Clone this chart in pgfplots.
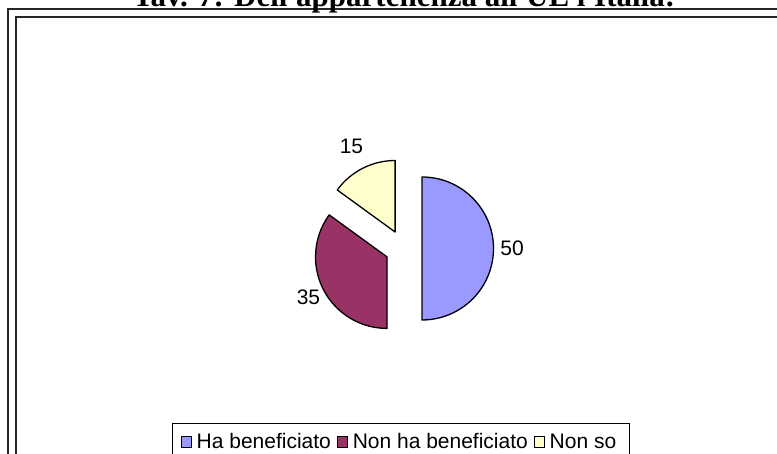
\documentclass[border=0pt]{standalone}
\usepackage{fontspec}
\setmainfont{Liberation Sans}
\newfontfamily\titlefont{Liberation Serif}
\usepackage{pgfplots}
\pgfplotsset{compat=1.18}
\usepackage{pgfplotstable}
\definecolor{pieblue}{HTML}{9999FF}
\definecolor{piered}{HTML}{993366}
\definecolor{pieyellow}{HTML}{FFFFCC}

% value, colour, label distance from pie centre (pt)
\pgfplotstableread{
value color dist
50 pieblue 108.5
35 piered 106.7
15 pieyellow 114.7
}\piedata

\pgfplotsset{sqlegend/.style={legend image code/.code={\draw[##1,line width=0.8pt] (0pt,-5.5pt) rectangle (10pt,5.5pt);}}}

\begin{document}
\begin{tikzpicture}
\useasboundingbox (0pt,0pt) rectangle (777pt,454pt);
% frames
\draw[line width=1.5pt, black!85] (8pt,445pt) rectangle (800pt,-40pt);
\draw[line width=1.5pt, black!85] (16pt,437pt) rectangle (790pt,-30pt);
% title (partly cut by the page top, as in the reference)
\node[anchor=base, inner sep=0pt, font=\titlefont\bfseries\fontsize{31}{36}\selectfont] at (404pt,447.5pt) {Tav. 7: Dell'appartenenza all'UE l'Italia:};
\begin{axis}[
  at={(0pt,0pt)}, anchor=south west,
  scale only axis, width=777pt, height=454pt,
  xmin=0, xmax=777, ymin=0, ymax=454,
  hide axis, clip=false,
  legend columns=3,
  legend style={
    at={(axis cs:172,31)}, anchor=north west,
    draw=black, line width=0.8pt,
    font=\fontsize{21}{25}\selectfont,
    inner xsep=9pt, inner ysep=7pt,
    nodes={inner xsep=4.5pt, inner ysep=3pt},
    /tikz/every even column/.append style={column sep=2pt},
  },
]
\addlegendimage{sqlegend, fill=pieblue, draw=black}
\addlegendentry{Ha beneficiato}
\addlegendimage{sqlegend, fill=piered, draw=black}
\addlegendentry{Non ha beneficiato}
\addlegendimage{sqlegend, fill=pieyellow, draw=black}
\addlegendentry{Non so}
\pgfplotsextra{
  \gdef\cum{0}
  \foreach \i in {0,1,2}{
    \pgfplotstablegetelem{\i}{value}\of{\piedata}\let\vv\pgfplotsretval
    \pgfplotstablegetelem{\i}{color}\of{\piedata}\let\cc\pgfplotsretval
    \pgfplotstablegetelem{\i}{dist}\of{\piedata}\let\dd\pgfplotsretval
    \pgfmathsetmacro{\sa}{90-3.6*\cum}
    \pgfmathsetmacro{\ea}{90-3.6*(\cum+\vv)}
    \pgfmathsetmacro{\md}{(\sa+\ea)/2}
    \filldraw[fill=\cc, draw=black, line width=1.3pt, line join=round, shift={(\md:18.5pt)}]
      (axis cs:403.5,205.5) -- ++(\sa:71.5pt) arc[start angle=\sa, end angle=\ea, radius=71.5pt] -- cycle;
    \path (axis cs:403.5,205.5) ++(\md:\dd pt) node[font=\fontsize{21}{25}\selectfont] {\vv};
    \pgfmathsetmacro{\nc}{\cum+\vv}
    \xdef\cum{\nc}
  }
}
\end{axis}
\end{tikzpicture}
\end{document}
